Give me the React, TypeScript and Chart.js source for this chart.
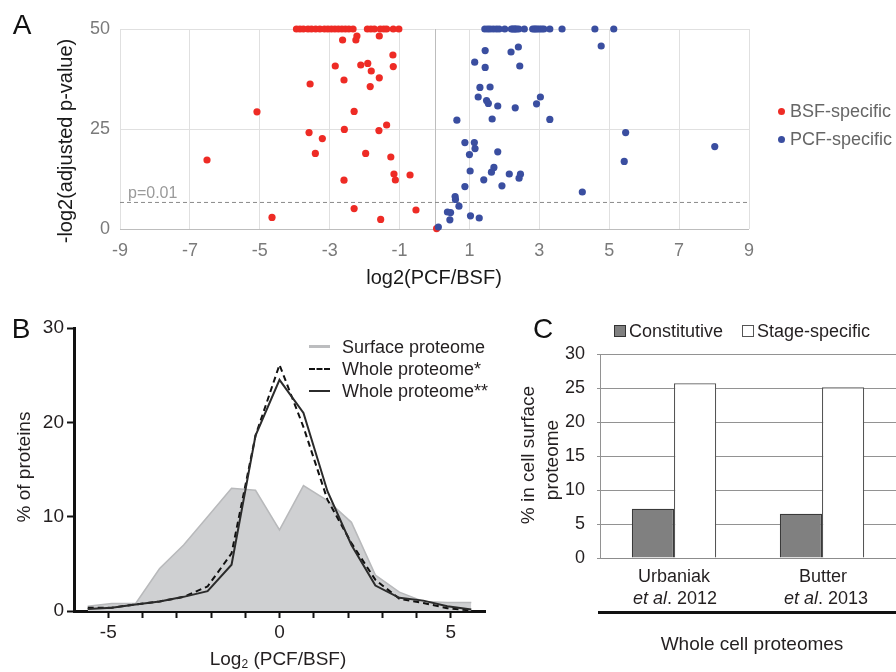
import React, { useEffect, useRef } from 'react';
import { Chart, registerables } from 'chart.js';

Chart.register(...registerables);

const FONT = '"Liberation Sans", Arial, Helvetica, sans-serif';

// ---------- Panel A: volcano plot ----------
const bsfX = [
  -3.95, -3.85, -3.75, -3.62, -3.52, -3.4, -3.28, -3.15, -3.05, -2.95, -2.85, -2.75, -2.65, -2.55, -2.45, -2.33,
  -1.92, -1.82, -1.72, -1.55, -1.45, -1.37, -1.18, -1.02,
  -2.63, -2.22, -2.25, -1.58, -1.19, -2.84, -2.11, -1.91, -1.81, -1.18, -3.56, -2.59, -1.84, -1.58,
  -5.08, -2.3, -2.58, -1.37, -1.59, -3.59, -3.21, -3.41, -6.51, -1.97, -1.25, -1.16, -1.12, -0.7,
  -2.59, -2.3, -0.53, -4.65, -1.54, 0.06,
];
const bsfY = [
  50, 50, 50, 50, 50, 50, 50, 50, 50, 50, 50, 50, 50, 50, 50, 50,
  50, 50, 50, 50, 50, 50, 50, 50,
  47.25, 48.25, 47.25, 48.25, 43.5, 40.75, 41, 41.4, 39.5, 40.6, 36.25, 37.25, 35.6, 37.8,
  29.3, 29.4, 24.9, 26, 24.6, 24.1, 22.6, 18.9, 17.25, 18.9, 18, 13.75, 12.25, 13.5,
  12.2, 5.1, 4.75, 2.9, 2.4, 0.1,
];
const pcfX = [
  1.44, 1.52, 1.59, 1.68, 1.77, 1.85, 2.01, 2.2, 2.24, 2.28, 2.31, 2.35, 2.41, 2.57, 2.81, 2.86, 2.9, 2.95, 3.01,
  3.07, 3.13, 3.3, 3.65, 4.59, 5.13,
  4.77, 1.45, 2.19, 2.4, 1.15, 1.45, 2.44, 1.3, 1.59, 1.25, 1.49, 1.54, 1.81, 2.31, 2.92, 3.03,
  0.64, 1.65, 3.3, 5.47, 8.02, 0.87, 1.14, 1.16, 1.81, 1.0, 5.43, 1.7, 1.63, 1.02, 2.14, 2.46, 2.42,
  1.41, 1.93, 0.87, 4.23, 0.59, 0.6, 0.7, 0.37, 0.46, 0.44, 1.03, 1.28, 0.11,
];
const pcfY = [
  50, 50, 50, 50, 50, 50, 50, 50, 50, 50, 50, 50, 50, 50, 50, 50, 50, 50, 50,
  50, 50, 50, 50, 50, 50,
  45.75, 44.6, 44.25, 45.5, 41.7, 40.4, 40.75, 35.4, 35.5, 33, 32.1, 31.4, 30.75, 30.3, 31.3, 33,
  27.2, 27.5, 27.4, 24.1, 20.6, 21.6, 21.6, 20.1, 19.3, 18.6, 16.9, 15.4, 14.2, 14.5, 13.75, 13.7, 12.7,
  12.3, 10.8, 10.6, 9.25, 8.1, 7.4, 5.7, 4.25, 4.1, 2.3, 3.3, 2.75, 0.5,
];
const pThreshold = 6.64; // -log2(0.01)

// ---------- Panel B: distributions ----------
const binCenters = [-5.6, -4.9, -4.2, -3.5, -2.8, -2.1, -1.4, -0.7, 0, 0.7, 1.4, 2.1, 2.8, 3.5, 4.2, 4.9, 5.6];
const surfaceProteome = [0.5, 0.8, 0.8, 4.5, 7.0, 10.0, 13.0, 12.8, 8.6, 13.3, 11.7, 9.4, 3.8, 2.0, 1.0, 0.9, 0.9];
const wholeProteome1 = [0.35, 0.35, 0.7, 1.0, 1.5, 2.6, 6.1, 18.6, 26.1, 19.5, 11.8, 7.2, 3.3, 1.3, 0.85, 0.3, 0.05];
const wholeProteome2 = [0.2, 0.35, 0.7, 1.0, 1.5, 2.1, 4.9, 18.6, 24.5, 21.0, 12.7, 7.0, 2.7, 1.4, 1.1, 0.5, 0.15];

// ---------- Panel C: bars ----------
const studies = ['Urbaniak et al. 2012', 'Butter et al. 2013'];
const constitutive = [7.25, 6.5];
const stageSpecific = [25.7, 25.1];

const xy = (xs: number[], ys: number[]) => xs.map((x, i) => ({ x, y: ys[i] }));

const zeroLinePlugin = {
  id: 'zeroLine',
  beforeDatasetsDraw(chart: any) {
    const { ctx, chartArea, scales } = chart;
    const x = Math.round(scales.x.getPixelForValue(0)) + 0.5;
    ctx.save();
    ctx.strokeStyle = '#bdbdbd';
    ctx.lineWidth = 1;
    ctx.beginPath();
    ctx.moveTo(x, chartArea.top);
    ctx.lineTo(x, chartArea.bottom);
    ctx.stroke();
    ctx.restore();
  },
};

type TxtProps = {
  x: number; y: number; size?: number; color?: string; anchor?: 'left' | 'center' | 'right';
  rotate?: boolean; italic?: boolean; children: React.ReactNode;
};
const Txt = ({ x, y, size = 18, color = '#231f20', anchor = 'center', rotate, children }: TxtProps) => {
  const tx = anchor === 'left' ? '0' : anchor === 'right' ? '-100%' : '-50%';
  return (
    <div
      style={{
        position: 'absolute', left: x, top: y, fontSize: size, color, lineHeight: 1, whiteSpace: 'nowrap',
        transform: `translate(${tx},-50%)${rotate ? ' rotate(-90deg)' : ''}`, fontFamily: FONT,
      }}
    >
      {children}
    </div>
  );
};

export default function App() {
  const aRef = useRef<HTMLCanvasElement>(null);
  const bRef = useRef<HTMLCanvasElement>(null);
  const cRef = useRef<HTMLCanvasElement>(null);

  useEffect(() => {
    document.body.style.margin = '0';
    const charts: Chart[] = [];

    // Panel A
    charts.push(new Chart(aRef.current!, {
      type: 'scatter',
      data: {
        datasets: [
          { label: 'PCF-specific', data: xy(pcfX, pcfY), backgroundColor: '#3a4ea0', borderWidth: 0, pointRadius: 3.6, clip: false, order: 0 } as any,
          { label: 'BSF-specific', data: xy(bsfX, bsfY), backgroundColor: '#ee2b25', borderWidth: 0, pointRadius: 3.6, clip: false, order: 1 } as any,
          { type: 'line', label: 'p=0.01', data: [{ x: -9, y: pThreshold }, { x: 9, y: pThreshold }], borderColor: '#8a8a8a', borderWidth: 1, borderDash: [4, 3], pointRadius: 0, order: 2 } as any,
        ],
      },
      options: {
        animation: false, responsive: false, maintainAspectRatio: false,
        layout: { padding: { top: 29, right: 147, left: 0, bottom: 0 } },
        plugins: { legend: { display: false }, tooltip: { enabled: false } },
        scales: {
          x: {
            type: 'linear', min: -9, max: 9,
            ticks: { stepSize: 2, color: '#7a7a7a', font: { family: FONT, size: 18 }, padding: 11 },
            grid: { color: '#e0e0e0', drawTicks: false },
            border: { display: false },
            afterFit: (s: any) => { s.height = 71; },
          },
          y: {
            min: 0, max: 50,
            ticks: { stepSize: 25, color: '#7a7a7a', font: { family: FONT, size: 18 }, padding: 10 },
            grid: { color: (c: any) => (c.tick && c.tick.value === 0 ? '#bdbdbd' : '#e0e0e0'), drawTicks: false },
            border: { display: false },
            afterFit: (s: any) => { s.width = 120; },
          },
        },
      },
      plugins: [zeroLinePlugin],
    }));

    // Panel B
    const axisB = {
      grid: { drawOnChartArea: false, tickLength: 7, tickColor: '#111', tickWidth: 2 },
      border: { color: '#111', width: 3 },
    };
    charts.push(new Chart(bRef.current!, {
      type: 'line',
      data: {
        datasets: [
          { label: 'Whole proteome**', data: xy(binCenters, wholeProteome2), borderColor: '#2b2b2b', borderWidth: 2, pointRadius: 0, fill: false, tension: 0, order: 0 },
          { label: 'Whole proteome*', data: xy(binCenters, wholeProteome1), borderColor: '#111', borderWidth: 2, borderDash: [6, 4], pointRadius: 0, fill: false, tension: 0, order: 1 },
          { label: 'Surface proteome', data: xy(binCenters, surfaceProteome), borderColor: '#b8b9bb', backgroundColor: '#cfd0d2', borderWidth: 1.5, pointRadius: 0, fill: 'origin', tension: 0, order: 2 },
        ],
      },
      options: {
        animation: false, responsive: false, maintainAspectRatio: false,
        layout: { padding: { top: 28, right: 15, left: 0, bottom: 0 } },
        plugins: { legend: { display: false }, tooltip: { enabled: false } },
        scales: {
          x: {
            type: 'linear', min: -6, max: 6,
            afterBuildTicks: (s: any) => { s.ticks = s.ticks.filter((t: any) => t.value >= -5 && t.value <= 5); },
            ticks: {
              stepSize: 1, autoSkip: false, maxRotation: 0, color: '#231f20', font: { family: FONT, size: 19 }, padding: 3,
              callback: (v: any) => (Number(v) % 5 === 0 ? String(v) : ''),
            },
            ...axisB,
            afterFit: (s: any) => { s.height = 61; },
          } as any,
          y: {
            min: 0, max: 30,
            ticks: { stepSize: 10, color: '#231f20', font: { family: FONT, size: 19 }, padding: 3 },
            ...axisB,
            afterFit: (s: any) => { s.width = 74; },
          } as any,
        },
      },
    }));

    // Panel C
    charts.push(new Chart(cRef.current!, {
      type: 'bar',
      data: {
        labels: studies,
        datasets: [
          { label: 'Constitutive', data: constitutive, backgroundColor: '#808080', borderColor: '#3a3a3a', borderWidth: 1.2, categoryPercentage: 0.57, barPercentage: 1 },
          { label: 'Stage-specific', data: stageSpecific, backgroundColor: '#ffffff', borderColor: '#555', borderWidth: 1.2, categoryPercentage: 0.57, barPercentage: 1 },
        ],
      },
      options: {
        animation: false, responsive: false, maintainAspectRatio: false,
        layout: { padding: { top: 54, right: 0, left: 0, bottom: 0 } },
        plugins: { legend: { display: false }, tooltip: { enabled: false } },
        scales: {
          x: {
            ticks: { display: false },
            grid: { display: false },
            border: { color: '#8c8c8c', width: 1 },
            afterFit: (s: any) => { s.height = 114; },
          },
          y: {
            min: 0, max: 30,
            ticks: { stepSize: 5, color: '#231f20', font: { family: FONT, size: 18 }, padding: 12 },
            grid: { color: '#929292', tickLength: 3 },
            border: { color: '#929292' },
            afterFit: (s: any) => { s.width = 100; },
          },
        },
      },
    }));

    return () => charts.forEach((c) => c.destroy());
  }, []);

  return (
    <div style={{ position: 'fixed', left: 0, top: 0, width: 896, height: 672, background: '#fff', overflow: 'hidden', fontFamily: FONT }}>
      <canvas ref={aRef} width={896} height={300} style={{ position: 'absolute', left: 0, top: 0, width: 896, height: 300 }} />
      <canvas ref={bRef} width={500} height={372} style={{ position: 'absolute', left: 0, top: 300, width: 500, height: 372 }} />
      <canvas ref={cRef} width={396} height={372} style={{ position: 'absolute', left: 500, top: 300, width: 396, height: 372 }} />

      {/* Panel A texts */}
      <Txt x={22} y={25} size={28} color="#111">A</Txt>
      <Txt x={65} y={141} size={20} color="#1a1a1a" rotate>-log2(adjusted p-value)</Txt>
      <Txt x={434} y={277} size={20} color="#1a1a1a">log2(PCF/BSF)</Txt>
      <Txt x={128} y={193} size={16} color="#9a9a9a" anchor="left">p=0.01</Txt>
      <div style={{ position: 'absolute', left: 777.5, top: 107.5, width: 7, height: 7, borderRadius: '50%', background: '#ee2b25' }} />
      <Txt x={790} y={111} size={18} color="#666" anchor="left">BSF-specific</Txt>
      <div style={{ position: 'absolute', left: 777.5, top: 135.5, width: 7, height: 7, borderRadius: '50%', background: '#3a4ea0' }} />
      <Txt x={790} y={139} size={18} color="#666" anchor="left">PCF-specific</Txt>

      {/* Panel B texts */}
      <Txt x={21} y={329} size={28} color="#111">B</Txt>
      <Txt x={23} y={467} size={19} rotate>% of proteins</Txt>
      <Txt x={278} y={659} size={19}>
        Log<sub style={{ fontSize: 12, verticalAlign: '-0.25em' }}>2</sub> (PCF/BSF)
      </Txt>
      <div style={{ position: 'absolute', left: 309, top: 345, width: 21, height: 3, background: '#bcbdbf' }} />
      <Txt x={342} y={347} size={18} anchor="left">Surface proteome</Txt>
      <div style={{ position: 'absolute', left: 309, top: 368, width: 21, height: 0, borderTop: '2px dashed #111' }} />
      <Txt x={342} y={369} size={18} anchor="left">Whole proteome*</Txt>
      <div style={{ position: 'absolute', left: 309, top: 390, width: 21, height: 2, background: '#2b2b2b' }} />
      <Txt x={342} y={391} size={18} anchor="left">Whole proteome**</Txt>

      {/* Panel C texts */}
      <Txt x={543} y={329} size={28} color="#111">C</Txt>
      <div style={{ position: 'absolute', left: 614, top: 325, width: 10, height: 10, background: '#808080', border: '1px solid #333' }} />
      <Txt x={629} y={331} size={18} anchor="left">Constitutive</Txt>
      <div style={{ position: 'absolute', left: 742, top: 325, width: 10, height: 10, background: '#fff', border: '1px solid #555' }} />
      <Txt x={757} y={331} size={18} anchor="left">Stage-specific</Txt>
      <Txt x={527} y={455} size={19} rotate>% in cell surface</Txt>
      <Txt x={551} y={460} size={19} rotate>proteome</Txt>
      <Txt x={674} y={576} size={18}>Urbaniak</Txt>
      <Txt x={675} y={598} size={18}><i>et al</i>. 2012</Txt>
      <Txt x={823} y={576} size={18}>Butter</Txt>
      <Txt x={826} y={598} size={18}><i>et al</i>. 2013</Txt>
      <div style={{ position: 'absolute', left: 598, top: 611, width: 298, height: 3, background: '#111' }} />
      <Txt x={752} y={643} size={19}>Whole cell proteomes</Txt>
    </div>
  );
}
